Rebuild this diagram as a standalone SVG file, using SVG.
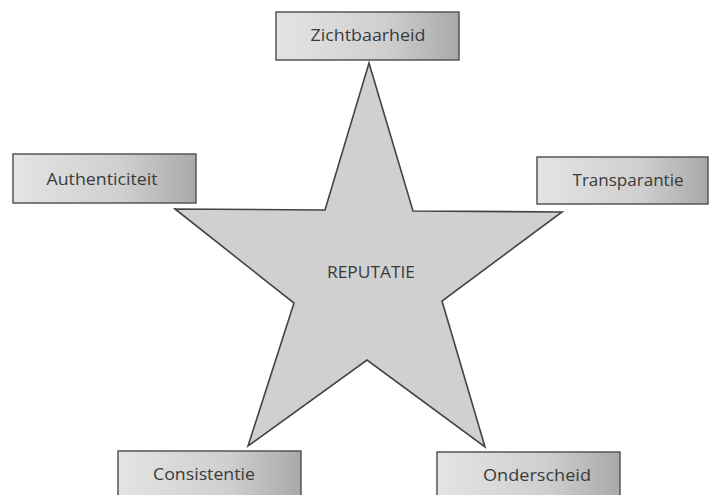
<svg xmlns="http://www.w3.org/2000/svg" width="710" height="495" viewBox="0 0 710 495">
<defs>
<linearGradient id="boxGrad" x1="0" y1="0" x2="1" y2="0">
<stop offset="0" stop-color="#e4e4e4"/>
<stop offset="0.6" stop-color="#cfcfcf"/>
<stop offset="1" stop-color="#a9a9a9"/>
</linearGradient>
</defs>
<style>
.box{fill:url(#boxGrad);stroke:#555;stroke-width:1.5}
.lbl{font-family:"Open Sans","Liberation Sans",sans-serif;font-size:16px;fill:#3a3a3a;text-anchor:middle}
.star{fill:#d0d0d0;stroke:#444;stroke-width:1.6;stroke-linejoin:miter}
</style>
<rect width="710" height="495" fill="#ffffff"/>
<g id="connectors"></g>
<g id="star">
<polygon class="star" points="369,63 413,211 562,212 442,301 485,447 367,360 248,446 294,303 175,209 325,210"/>
<text class="lbl" x="371" y="278" font-size="15" textLength="88" lengthAdjust="spacingAndGlyphs">REPUTATIE</text>
</g>
<g id="zichtbaarheid">
<rect class="box" x="276" y="12" width="183" height="48"/>
<text class="lbl" x="368" y="41" textLength="115" lengthAdjust="spacingAndGlyphs">Zichtbaarheid</text>
</g>
<g id="authenticiteit">
<rect class="box" x="13" y="154" width="183" height="49"/>
<text class="lbl" x="102" y="185" textLength="111" lengthAdjust="spacingAndGlyphs">Authenticiteit</text>
</g>
<g id="transparantie">
<rect class="box" x="537" y="157" width="171" height="47"/>
<text class="lbl" x="628" y="186" textLength="111" lengthAdjust="spacingAndGlyphs">Transparantie</text>
</g>
<g id="consistentie">
<rect class="box" x="118" y="451" width="183" height="50"/>
<text class="lbl" x="204" y="480" textLength="102" lengthAdjust="spacingAndGlyphs">Consistentie</text>
</g>
<g id="onderscheid">
<rect class="box" x="437" y="452" width="183" height="50"/>
<text class="lbl" x="537" y="481" textLength="108" lengthAdjust="spacingAndGlyphs">Onderscheid</text>
</g>
</svg>
